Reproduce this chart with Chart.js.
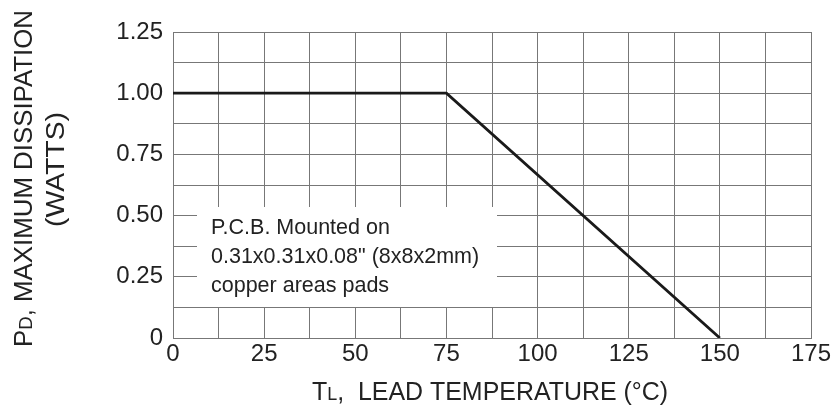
<!DOCTYPE html>
<html>
<head>
<meta charset="utf-8">
<script src="https://cdn.jsdelivr.net/npm/chart.js@4/dist/chart.umd.min.js"></script>
<style>
  html, body { margin: 0; padding: 0; background: #fff; }
  #wrap { width: 835px; height: 405px; }
</style>
</head>
<body>
<div id="wrap"><canvas id="deratingChart" width="835" height="405"></canvas></div>
<script>
// derating curve: lead temperature (C) vs max power (W)
var leadTemp = [0, 75, 150];
var maxPower = [1.0, 1.0, 0];

var xTicks = [0, 25, 50, 75, 100, 125, 150, 175];
var yTickValues = [0, 0.25, 0.5, 0.75, 1.0, 1.25];
var yTickLabels = ["0", "0.25", "0.50", "0.75", "1.00", "1.25"];

var noteLines = ["P.C.B. Mounted on", "0.31x0.31x0.08\" (8x8x2mm)", "copper areas pads"];

var FONT = "'Liberation Sans', Arial, sans-serif";
var INK = "#222";

// text pieces with subscripts
function pieceWidth(ctx, pieces, size) {
    var w = 0;
    pieces.forEach(function(p) {
        ctx.font = (p.sub ? size * 0.72 : size) + "px " + FONT;
        w += ctx.measureText(p.t).width;
    });
    return w;
}
function drawPieces(ctx, pieces, x, y, size) {
    pieces.forEach(function(p) {
        ctx.font = (p.sub ? size * 0.72 : size) + "px " + FONT;
        ctx.fillText(p.t, x, y);
        x += ctx.measureText(p.t).width;
    });
}

var extrasPlugin = {
    id: 'extras',
    beforeDatasetsDraw: function(chart) {
        var ctx = chart.ctx;
        var area = chart.chartArea;
        // note box
        ctx.save();
        ctx.fillStyle = "#fff";
        var bx = area.left + 24, by = area.top + 175;
        ctx.fillRect(bx, by, 300, 100);
        ctx.fillStyle = INK;
        ctx.font = "21.5px " + FONT;
        ctx.textBaseline = "middle";
        noteLines.forEach(function(line, i) {
            ctx.fillText(line, area.left + 38, by + 21 + i * 29);
        });
        ctx.restore();
    },
    afterDraw: function(chart) {
        var ctx = chart.ctx;
        ctx.save();
        ctx.fillStyle = INK;
        ctx.textBaseline = "alphabetic";
        // x title
        var xt = [{t: "T"}, {t: "L", sub: true}, {t: ",  LEAD TEMPERATURE (\u00B0C)"}];
        var wx = pieceWidth(ctx, xt, 25.5);
        ctx.save();
        ctx.translate(312, 400);
        ctx.scale(356 / wx, 1);
        drawPieces(ctx, xt, 0, 0, 25.5);
        ctx.restore();
        // y title, two lines rotated
        var yt1 = [{t: "P"}, {t: "D", sub: true}, {t: ", MAXIMUM DISSIPATION"}];
        var yt2 = [{t: "(WATTS)"}];
        ctx.save();
        ctx.translate(32, 347);
        ctx.rotate(-Math.PI / 2);
        var w1 = pieceWidth(ctx, yt1, 25.5);
        ctx.scale(337 / w1, 1);
        drawPieces(ctx, yt1, 0, 0, 25.5);
        ctx.restore();
        ctx.save();
        ctx.translate(64, 227);
        ctx.rotate(-Math.PI / 2);
        var w2 = pieceWidth(ctx, yt2, 25.5);
        ctx.scale(115 / w2, 1);
        drawPieces(ctx, yt2, 0, 0, 25.5);
        ctx.restore();
        ctx.restore();
    }
};

var ctxD = document.getElementById("deratingChart").getContext('2d');
var deratingChart = new Chart(ctxD, {
    type: 'line',
    data: {
        datasets: [{
            data: leadTemp.map(function(t, i) { return {x: t, y: maxPower[i]}; }),
            borderColor: "#1a1a1a",
            borderWidth: 2.8,
            pointRadius: 0,
            tension: 0,
            fill: false
        }]
    },
    options: {
        responsive: false,
        animation: false,
        devicePixelRatio: 1,
        layout: { padding: { top: 32, right: 24, left: 0, bottom: 0 } },
        plugins: {
            legend: { display: false },
            tooltip: { enabled: false }
        },
        scales: {
            x: {
                type: 'linear',
                min: 0,
                max: 175,
                afterFit: function(scale) { scale.height = 67; },
                afterBuildTicks: function(scale) {
                    var t = [];
                    for (var v = 0; v <= 175; v += 12.5) t.push({value: v});
                    scale.ticks = t;
                },
                ticks: {
                    padding: 2,
                    color: INK,
                    font: { family: FONT, size: 24 },
                    maxRotation: 0,
                    autoSkip: false,
                    callback: function(v) { return xTicks.indexOf(v) >= 0 ? String(v) : ""; }
                },
                grid: { color: "#777", lineWidth: 1, drawTicks: false },
                border: { color: "#777", width: 1 }
            },
            y: {
                min: 0,
                max: 1.25,
                afterFit: function(scale) { scale.width = 173; },
                afterBuildTicks: function(scale) {
                    var t = [];
                    for (var k = 0; k <= 10; k++) t.push({value: k * 0.125});
                    scale.ticks = t;
                },
                ticks: {
                    padding: 10,
                    color: INK,
                    font: { family: FONT, size: 24 },
                    autoSkip: false,
                    callback: function(v) {
                        for (var i = 0; i < yTickValues.length; i++) {
                            if (Math.abs(yTickValues[i] - v) < 1e-6) return yTickLabels[i];
                        }
                        return "";
                    }
                },
                grid: { color: "#777", lineWidth: 1, drawTicks: false },
                border: { color: "#777", width: 1 }
            }
        }
    },
    plugins: [extrasPlugin]
});
</script>
</body>
</html>
